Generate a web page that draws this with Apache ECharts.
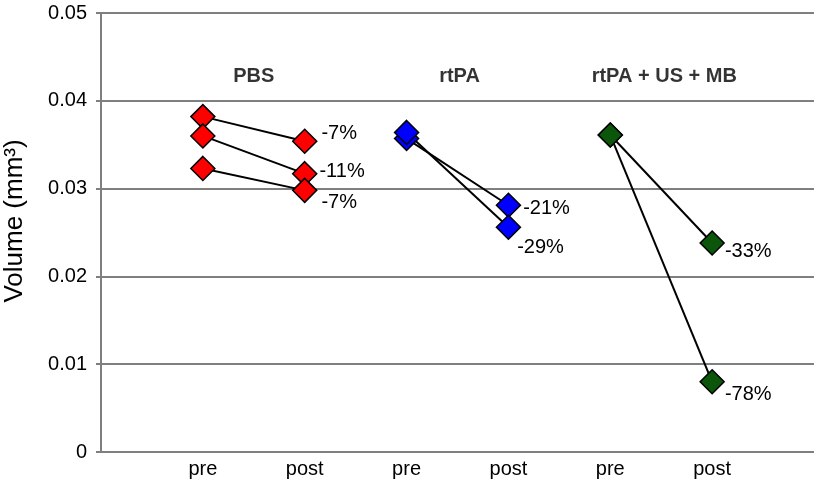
<!DOCTYPE html>
<html>
<head>
<meta charset="utf-8">
<script src="https://cdn.jsdelivr.net/npm/echarts@6/dist/echarts.min.js"></script>
<style>html,body{margin:0;padding:0;background:#fff;}#c{width:817px;height:490px;}</style>
</head>
<body>
<div id="c"></div>
<script>
// ---- data ----
const xTickLabels = ['', 'pre', 'post', 'pre', 'post', 'pre', 'post', ''];
const groupNames = ['PBS', 'rtPA', 'rtPA + US + MB'];
const yAxisTitle = 'Volume (mm³)';

const pbsPre = [0.0382, 0.0360, 0.0323];
const pbsPost = [0.0354, 0.0317, 0.0298];
const pbsChange = ['-7%', '-11%', '-7%'];

const rtpaPre = [0.0357, 0.0364];
const rtpaPost = [0.0281, 0.0256];
const rtpaChange = ['-21%', '-29%'];

const comboPre = [0.0361, 0.0361];
const comboPost = [0.0238, 0.0080];
const comboChange = ['-33%', '-78%'];

// ---- chart ----
const FONT = 'Liberation Sans, Arial, sans-serif';
const groups = [
  {pre: pbsPre, post: pbsPost, change: pbsChange, x: 1, color: '#ff0000', offs: [[0, -8], [-2, -2], [0, 12]]},
  {pre: rtpaPre, post: rtpaPost, change: rtpaChange, x: 3, color: '#0000ff', offs: [[-2, 3], [-8, 20]]},
  {pre: comboPre, post: comboPost, change: comboChange, x: 5, color: '#0b560b', offs: [[-4, 8], [-4, 13]]}
];

const series = [];
groups.forEach(g => {
  g.pre.forEach((v, i) => {
    series.push({
      type: 'line',
      data: [
        {value: [g.x, v], label: {show: false}},
        {value: [g.x + 1, g.post[i]], label: {
          show: true, position: 'right', distance: 4,
          offset: g.offs[i], formatter: g.change[i],
          fontFamily: FONT, fontSize: 20, color: '#000'
        }}
      ],
      symbol: 'diamond',
      symbolSize: 24,
      showSymbol: true,
      lineStyle: {color: '#000', width: 2},
      itemStyle: {color: g.color, borderColor: '#000', borderWidth: 1.5},
      animation: false,
      z: 3
    });
  });
});

// group titles
series.push({
  type: 'scatter',
  symbolSize: 0,
  data: groupNames.map((n, i) => ({value: [[1.5, 3.52, 5.53][i], 0.0428], name: n})),
  label: {
    show: true, position: 'inside', formatter: p => p.name,
    fontFamily: FONT, fontSize: 20, fontWeight: 'bold', color: '#000'
  },
  animation: false,
  silent: true
});

const chart = echarts.init(document.getElementById('c'), null, {renderer: 'canvas'});
chart.setOption({
  backgroundColor: '#fff',
  animation: false,
  grid: {left: 101, right: 2, top: 13, bottom: 38, containLabel: false},
  graphic: [{
    type: 'text',
    x: 15, y: 221, rotation: Math.PI / 2,
    style: {text: yAxisTitle, fontFamily: FONT, fontSize: 26, fill: '#000',
            textAlign: 'center', textVerticalAlign: 'middle'}
  }],
  xAxis: {
    type: 'value', min: 0, max: 7, interval: 1,
    axisLine: {show: false},
    axisTick: {show: false},
    splitLine: {show: false},
    axisLabel: {
      formatter: v => xTickLabels[Math.round(v)] || '',
      fontFamily: FONT, fontSize: 20, color: '#000', margin: 7,
      showMinLabel: true, showMaxLabel: true
    }
  },
  yAxis: {
    type: 'value', min: 0, max: 0.05, interval: 0.01,
    axisLine: {show: true, lineStyle: {color: '#7f7f7f', width: 2}},
    axisTick: {show: true, length: 5, lineStyle: {color: '#7f7f7f', width: 2}},
    splitLine: {show: true, lineStyle: {color: '#7f7f7f', width: 2}},
    axisLabel: {
      formatter: v => v === 0 ? '0' : v.toFixed(2),
      fontFamily: FONT, fontSize: 20, color: '#000', margin: 14
    }
  },
  series: series
});
</script>
</body>
</html>
